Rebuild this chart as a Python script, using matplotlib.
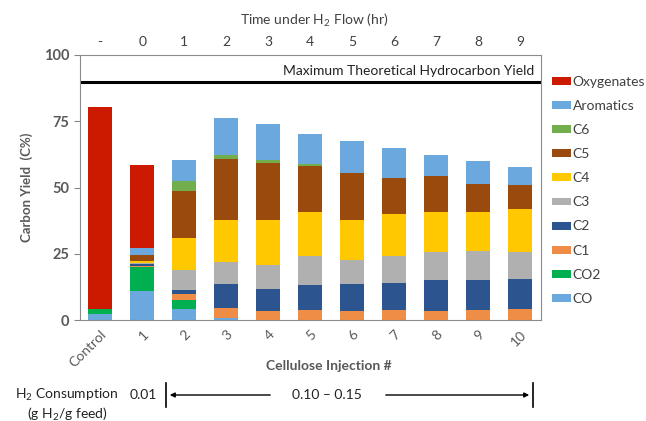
import numpy as np
import matplotlib
matplotlib.use("Agg")
import matplotlib.pyplot as plt
from matplotlib.lines import Line2D
from matplotlib.patches import FancyArrowPatch

plt.rcParams['font.family'] = ['Lato', 'DejaVu Sans']
plt.rcParams['mathtext.default'] = 'regular'

injections = ['Control', '1', '2', '3', '4', '5', '6', '7', '8', '9', '10']
time_labels = ['-', '0', '1', '2', '3', '4', '5', '6', '7', '8', '9']

# stacked from the bottom up
co = [2.2, 11.0, 4.2, 0.9, 0, 0, 0, 0, 0, 0, 0]
co2 = [1.8, 9.0, 3.5, 0, 0, 0, 0, 0, 0, 0, 0]
c1 = [0, 0.5, 2.0, 3.5, 3.4, 3.7, 3.4, 3.7, 3.5, 3.7, 4.2]
c2 = [0, 0.5, 1.5, 9.0, 8.2, 9.4, 10.1, 10.3, 11.7, 11.5, 11.2]
c3 = [0, 0.5, 7.5, 8.3, 9.0, 11.2, 9.2, 10.3, 10.6, 11.0, 10.4]
c4 = [0, 0.6, 12.3, 16.0, 17.2, 16.4, 15.1, 15.7, 14.8, 14.4, 16.0]
c5 = [0, 2.6, 17.7, 23.1, 21.4, 17.5, 17.5, 13.7, 13.6, 10.6, 9.0]
c6 = [0, 0, 3.7, 1.5, 1.1, 0.7, 0, 0, 0, 0, 0]
aromatics = [0, 2.5, 7.8, 13.9, 13.7, 11.3, 12.1, 11.2, 8.2, 8.7, 7.0]
oxygenates = [76.3, 31.2, 0, 0, 0, 0, 0, 0, 0, 0, 0]

max_yield = 90

series = [
    ('CO', co, '#6AA8DE'),
    ('CO2', co2, '#00B050'),
    ('C1', c1, '#EF8C45'),
    ('C2', c2, '#2C5590'),
    ('C3', c3, '#B0B0B0'),
    ('C4', c4, '#FFC800'),
    ('C5', c5, '#9A4A0C'),
    ('C6', c6, '#72AE4C'),
    ('Aromatics', aromatics, '#6AA8DE'),
    ('Oxygenates', oxygenates, '#CC1A00'),
]

fig = plt.figure(figsize=(6.46, 4.21), dpi=100)
ax = fig.add_axes([80 / 646, 1 - 320 / 421, 461 / 646, 265 / 421])

x = np.arange(len(injections))
bottom = np.zeros(len(injections))
handles = []
for name, vals, color in series:
    b = ax.bar(x, vals, width=0.56, bottom=bottom, color=color, label=name)
    bottom += np.array(vals)
    handles.append(b)

ax.axhline(max_yield, color='black', lw=2.2)
ax.text(10.35, max_yield + 1.8, 'Maximum Theoretical Hydrocarbon Yield',
        ha='right', va='bottom', fontsize=10, color='#222222')

ax.set_xlim(-0.48, 10.5)
ax.set_ylim(0, 100)
ax.set_yticks([0, 25, 50, 75, 100])
ax.set_xticks(x)
ax.set_xticklabels(injections, rotation=45, ha='right', rotation_mode='anchor',
                   fontsize=10, color='#595959')
for lab in ax.get_yticklabels():
    lab.set_fontweight('bold')
ax.tick_params(axis='y', labelsize=10.5, labelcolor='#595959', length=4, color='#888888')
ax.tick_params(axis='x', length=0, pad=6)
for s in ax.spines.values():
    s.set_color('#8C8C8C')
ax.set_ylabel('Carbon Yield  (C%)', fontsize=9.5, fontweight='bold', color='#595959', labelpad=8)

top = ax.twiny()
top.set_xlim(ax.get_xlim())
top.set_xticks(x)
top.set_xticklabels(time_labels, fontsize=10, color='#404040')
top.tick_params(axis='x', length=0, pad=5)
for s in top.spines.values():
    s.set_visible(False)
fig.text(314 / 646, 1 - 20 / 421, 'Time under H$_2$ Flow (hr)', ha='center', va='center',
         fontsize=10, color='#404040')

fig.text(329 / 646, 1 - 366 / 421, 'Cellulose Injection #', ha='center', va='center',
         fontsize=10, fontweight='bold', color='#595959')

ax.legend(handles[::-1], [s[0] for s in series][::-1], loc='upper left',
          bbox_to_anchor=(552 / 646, 1 - 76 / 421), bbox_transform=fig.transFigure,
          frameon=False, fontsize=10, labelspacing=0.87, handlelength=1.35,
          handleheight=0.5, handletextpad=0.15, borderpad=0, borderaxespad=0,
          labelcolor='#404040')

# hydrogen consumption row below the chart
fig.text(67 / 646, 1 - 395 / 421, 'H$_2$ Consumption', ha='center', va='center',
         fontsize=10, color='#222222')
fig.text(67 / 646, 1 - 414 / 421, '(g H$_2$/g feed)', ha='center', va='center',
         fontsize=10, color='#222222')
fig.text(143 / 646, 1 - 395 / 421, '0.01', ha='center', va='center',
         fontsize=10, color='#222222')
fig.text(327 / 646, 1 - 395 / 421, '0.10 \u2013 0.15', ha='center', va='center',
         fontsize=10, color='#222222')
for px in (166, 533):
    fig.add_artist(Line2D([px / 646, px / 646], [1 - 383 / 421, 1 - 407 / 421],
                          transform=fig.transFigure, color='black', lw=1.2))
fig.add_artist(FancyArrowPatch(
    (273 / 646, 1 - 395 / 421), (167 / 646, 1 - 395 / 421), transform=fig.transFigure,
    arrowstyle='-|>', mutation_scale=7, color='black', lw=1))
fig.add_artist(FancyArrowPatch(
    (383 / 646, 1 - 395 / 421), (532 / 646, 1 - 395 / 421), transform=fig.transFigure,
    arrowstyle='-|>', mutation_scale=7, color='black', lw=1))

fig.savefig('out.png', dpi=100)
